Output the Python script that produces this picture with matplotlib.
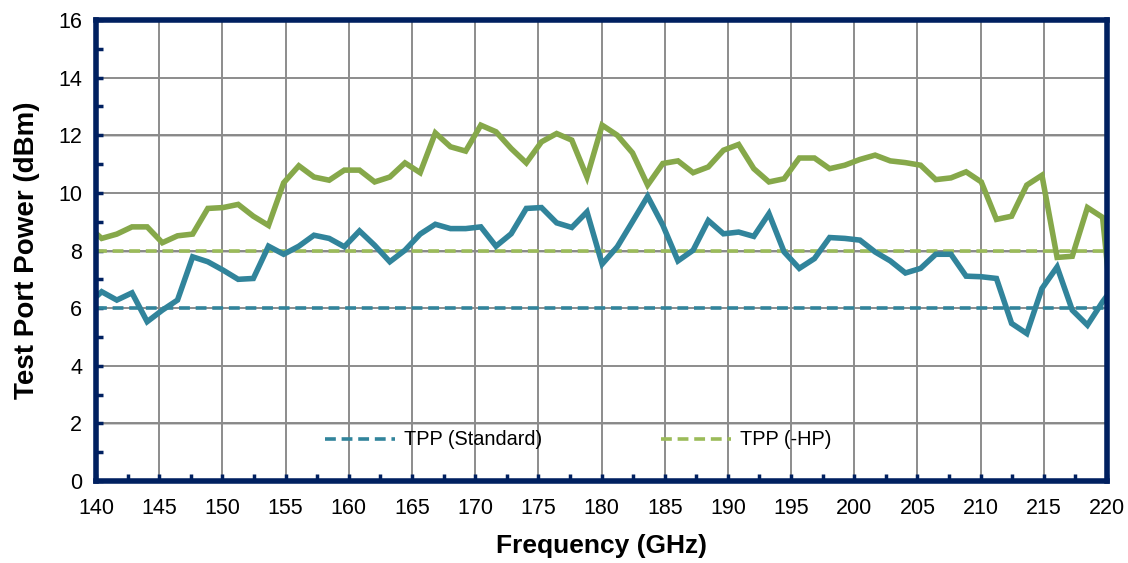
import matplotlib
matplotlib.use("Agg")
import matplotlib.pyplot as plt
from matplotlib.ticker import MultipleLocator

plt.rcParams["font.family"] = ["Liberation Sans", "DejaVu Sans"]

# frequency points (GHz) - sweep runs slightly past both axis ends
freq = [139.25, 140.45, 141.65, 142.85, 144.05, 145.25, 146.45, 147.65, 148.85,
        150.05, 151.25, 152.45, 153.65, 154.85, 156.05, 157.25, 158.45, 159.65,
        160.85, 162.05, 163.25, 164.45, 165.65, 166.85, 168.05, 169.25, 170.45,
        171.65, 172.85, 174.05, 175.25, 176.45, 177.65, 178.85, 180.05, 181.25,
        182.45, 183.65, 184.85, 186.05, 187.25, 188.45, 189.65, 190.85, 192.05,
        193.25, 194.45, 195.65, 196.85, 198.05, 199.25, 200.45, 201.65, 202.85,
        204.05, 205.25, 206.45, 207.65, 208.85, 210.05, 211.25, 212.45, 213.65,
        214.85, 216.05, 217.25, 218.45, 219.65, 220.85]

# measured test port power, -HP option (green)
tpp_hp = [8.88, 8.42, 8.57, 8.82, 8.82, 8.27, 8.51, 8.57, 9.46, 9.49,
          9.60, 9.19, 8.87, 10.35, 10.94, 10.55, 10.44, 10.79, 10.79, 10.38,
          10.55, 11.04, 10.70, 12.08, 11.60, 11.45, 12.35, 12.12, 11.54, 11.04,
          11.77, 12.06, 11.83, 10.55, 12.35, 12.00, 11.39, 10.27, 11.02, 11.11,
          10.70, 10.90, 11.48, 11.68, 10.84, 10.38, 10.49, 11.21, 11.21, 10.84,
          10.96, 11.16, 11.31, 11.11, 11.05, 10.96, 10.46, 10.52, 10.73, 10.38,
          9.08, 9.19, 10.27, 10.61, 7.76, 7.80, 9.49, 9.15, 3.90]

# measured test port power, standard (teal)
tpp_std = [6.09, 6.57, 6.28, 6.53, 5.53, 5.93, 6.28, 7.78, 7.61, 7.32,
           7.00, 7.03, 8.15, 7.87, 8.15, 8.53, 8.42, 8.13, 8.68, 8.18,
           7.61, 8.01, 8.57, 8.91, 8.76, 8.76, 8.82, 8.15, 8.58, 9.46,
           9.49, 8.96, 8.80, 9.34, 7.53, 8.13, 9.00, 9.88, 8.88, 7.64,
           8.01, 9.04, 8.58, 8.64, 8.49, 9.28, 7.95, 7.38, 7.72, 8.45,
           8.42, 8.36, 7.95, 7.64, 7.22, 7.38, 7.87, 7.87, 7.11, 7.09,
           7.03, 5.47, 5.12, 6.68, 7.43, 5.93, 5.41, 6.22, 6.93]

# spec levels
spec_std = 6
spec_hp = 8
black_levels = [2, 8, 12]

NAVY = "#002060"
GREEN = "#86A84A"
TEAL = "#31849B"
GREEN_SPEC = "#9BBB59"

fig = plt.figure(figsize=(11.28, 5.63), dpi=100)
ax = fig.add_axes([0.0851, 0.1456, 0.8963, 0.8189])

ax.set_xlim(140, 220)
ax.set_ylim(0, 16)
ax.xaxis.set_major_locator(MultipleLocator(5))
ax.xaxis.set_minor_locator(MultipleLocator(2.5))
ax.yaxis.set_major_locator(MultipleLocator(2))
ax.yaxis.set_minor_locator(MultipleLocator(1))

ax.grid(True, which="major", color="#8c8c8c", lw=1.4, zorder=0)
for lv in black_levels:
    ax.axhline(lv, color="black", lw=1.0, zorder=1)

ax.plot(freq, tpp_hp, color=GREEN, lw=4.0, zorder=3, solid_joinstyle="miter")
ax.plot(freq, tpp_std, color=TEAL, lw=4.0, zorder=3, solid_joinstyle="miter")

ax.axhline(spec_std, color=TEAL, lw=2.6, ls=(0, (3, 1.6)), zorder=2,
           label="TPP (Standard)")
ax.axhline(spec_hp, color=GREEN_SPEC, lw=2.6, ls=(0, (3, 1.6)), zorder=2,
           label="TPP (-HP)")

for s in ax.spines.values():
    s.set_color(NAVY)
    s.set_linewidth(4.0)
    s.set_zorder(5)

ax.tick_params(which="both", direction="in", color=NAVY, width=2.5,
               labelsize=15.5, labelcolor="black", length=5)
ax.tick_params(axis="y", pad=10)
ax.tick_params(axis="x", pad=12)

ax.set_xlabel("Frequency (GHz)", fontsize=19, fontweight="bold", labelpad=11)
ax.set_ylabel("Test Port Power (dBm)", fontsize=20, fontweight="bold", labelpad=13)

ax.legend(loc="center", bbox_to_anchor=(0.477, 0.089), ncol=2, frameon=False,
          fontsize=14.3, handlelength=3.5, handletextpad=0.45, columnspacing=6.0)

fig.savefig("out.png", dpi=100)
